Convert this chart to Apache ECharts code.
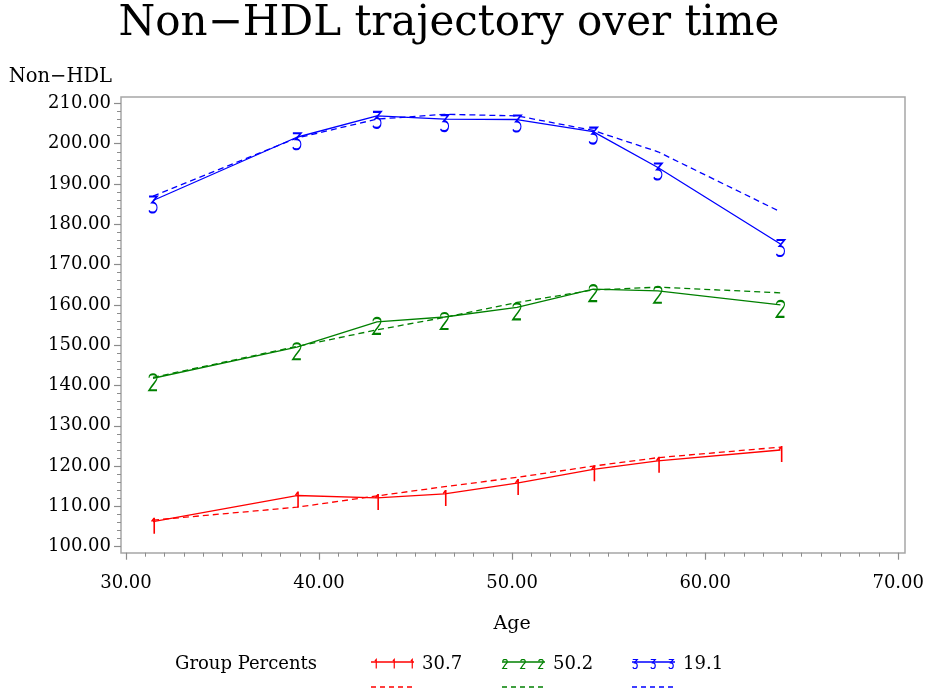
<!DOCTYPE html>
<html>
<head>
<meta charset="utf-8">
<script src="https://cdn.jsdelivr.net/npm/echarts@6/dist/echarts.min.js"></script>
<style>html,body{margin:0;padding:0;background:#fff}#chart{width:927px;height:689px}</style>
</head>
<body>
<div id="chart"></div>
<script>
// ---- data ----
const ages = [31.4, 38.85, 43.0, 46.5, 50.25, 54.2, 57.55, 63.9];
const group1Observed = [106.2, 112.7, 112.1, 113.1, 115.8, 119.2, 121.3, 124.0];
const group1Predicted = [106.6, 109.8, 112.6, 114.9, 117.2, 120.0, 122.1, 124.7];
const group2Observed = [141.8, 149.5, 155.8, 157.0, 159.4, 163.9, 163.5, 160.0];
const group2Predicted = [142.0, 149.7, 153.8, 156.9, 160.6, 163.7, 164.4, 163.0];
const group3Observed = [185.9, 201.6, 206.9, 206.1, 206.0, 203.0, 194.1, 175.1];
const group3Predicted = [187.0, 201.4, 206.1, 207.3, 206.9, 203.3, 198.0, 183.1];
const groupPercents = ['30.7', '50.2', '19.1'];
const groupNumbers = ['1', '2', '3'];
const titleText = 'Non\u2212HDL trajectory over time';
const yAxisTitle = 'Non\u2212HDL';
const xAxisTitle = 'Age';
const legendTitle = 'Group Percents';

// ---- styles ----
const FONT = 'DejaVu Serif';
const colors = ['#ff0000', '#008000', '#0000ff'];
const glyphs = {
  // "1" is a filled outline (flag + stem), the others are stroked
  '1': 'M0,3.4 L2.4,0 L4,0 L4,16 L2.4,16 L2.4,2.6 L1.1,4.2 Z',
  '2': 'M0,3.5 C0,1 2,0 4,0 C6,0 8,1 8,3.5 C8,6.5 4.5,9 0,16 L8,16',
  '3': 'M0,0 L8,0 L3,6 C6,6 8,8 8,11 C8,14 6.2,16 4,16 C2,16 0.3,15.2 0,13.8'
};
const glyphW = {'1': 4, '2': 8, '3': 8};
// polyline versions of the glyphs for the legend (unit box 8 x 16)
const glyphPts = {
  '1': [[5.5,2.5],[8,0],[8,16]],
  '2': [[0,3.5],[0.5,1.5],[2,0.3],[4,0],[6,0.3],[7.5,1.5],[8,3.5],[7.3,6],[4.5,9],[0,16],[8,16]],
  '3': [[0,0],[8,0],[3,6],[5.5,6.3],[7.3,7.8],[8,11],[7.3,14.3],[5.5,15.7],[4,16],[2,15.8],[0,13.8]]
};

const observed = [group1Observed, group2Observed, group3Observed];
const predicted = [group1Predicted, group2Predicted, group3Predicted];

const series = [];
for (let g = 0; g < 3; g++) {
  const num = groupNumbers[g];
  const filled = num === '1';
  series.push({
    type: 'line', name: groupPercents[g], xAxisIndex: 1, yAxisIndex: 1,
    data: ages.map((a, i) => [a, observed[g][i]]),
    symbol: 'path://' + glyphs[num],
    symbolSize: [glyphW[num], 16],
    symbolOffset: [0, 4],
    itemStyle: filled
      ? { color: colors[g], borderWidth: 0 }
      : { color: 'none', borderColor: colors[g], borderWidth: 1.5 },
    lineStyle: { color: colors[g], width: 1.3 },
    emphasis: { disabled: true }, silent: true, animation: false, z: 3
  });
  series.push({
    type: 'line', name: groupPercents[g] + ' predicted', xAxisIndex: 1, yAxisIndex: 1,
    data: ages.map((a, i) => [a, predicted[g][i]]),
    symbol: 'none',
    lineStyle: { color: colors[g], width: 1.3, type: [6, 4] },
    emphasis: { disabled: true }, silent: true, animation: false, z: 2
  });
}

// ---- legend (drawn as graphics) ----
const legendStarts = [371, 502, 632];
const legendEls = [{
  type: 'text', x: 175, y: 664,
  style: { text: legendTitle, font: '18px "' + FONT + '"', fill: '#000', verticalAlign: 'middle' }
}];
for (let g = 0; g < 3; g++) {
  const x0 = legendStarts[g], x1 = x0 + 43;
  legendEls.push({ type: 'line', shape: { x1: x0, y1: 662, x2: x1, y2: 662 },
    style: { stroke: colors[g], lineWidth: 1.3 } });
  [3, 21, 39].forEach(dx => {
    const s = 9 / 16;
    const pts = glyphPts[groupNumbers[g]].map(p => [x0 + dx - 2.25 + p[0] * s, 659.5 + p[1] * s]);
    legendEls.push({ type: 'polyline', shape: { points: pts },
      style: { stroke: colors[g], fill: null, lineWidth: 1.2 } });
  });
  legendEls.push({ type: 'text', x: x1 + 8, y: 664,
    style: { text: groupPercents[g], font: '18px "' + FONT + '"', fill: '#000', verticalAlign: 'middle' } });
  legendEls.push({ type: 'line', shape: { x1: x0, y1: 687, x2: x1, y2: 687 },
    style: { stroke: colors[g], lineWidth: 1.3, lineDash: [5, 4] } });
}

const tickColor = '#8c8c8c';
const option = {
  backgroundColor: '#fff',
  animation: false,
  title: {
    text: titleText, left: 449, top: 3, textAlign: 'center', padding: 0,
    textStyle: { fontFamily: FONT, fontSize: 42, fontWeight: 'normal', color: '#000' }
  },
  grid: [
    { left: 121, right: 22, top: 97, bottom: 136, show: true, borderColor: '#a6a6a6', borderWidth: 1.5, backgroundColor: 'transparent' },
    { left: 126, right: 25, top: 103.4, bottom: 142.3 }
  ],
  xAxis: [
    { gridIndex: 0, type: 'value', show: false, min: 0, max: 1 },
    {
      gridIndex: 1, type: 'value', min: 30, max: 70, interval: 10, offset: 6,
      name: xAxisTitle, nameLocation: 'middle', nameGap: 62,
      nameTextStyle: { fontFamily: FONT, fontSize: 19, color: '#000' },
      axisLine: { show: false },
      axisTick: { show: true, length: 7, lineStyle: { color: tickColor, width: 1.2 } },
      minorTick: { show: true, splitNumber: 10, length: 4, lineStyle: { color: tickColor, width: 1 } },
      splitLine: { show: false },
      axisLabel: { margin: 22, fontFamily: FONT, fontSize: 18, color: '#000', formatter: v => v.toFixed(2) }
    }
  ],
  yAxis: [
    { gridIndex: 0, type: 'value', show: false, min: 0, max: 1 },
    {
      gridIndex: 1, type: 'value', min: 100, max: 210, interval: 10, offset: 5,
      name: yAxisTitle, nameLocation: 'end', nameGap: 26,
      nameTextStyle: { fontFamily: FONT, fontSize: 19.5, color: '#000', align: 'right', verticalAlign: 'middle', padding: [0, 9, 0, 0] },
      axisLine: { show: false },
      axisTick: { show: true, length: 7, lineStyle: { color: tickColor, width: 1.2 } },
      minorTick: { show: true, splitNumber: 5, length: 4, lineStyle: { color: tickColor, width: 1 } },
      splitLine: { show: false },
      axisLabel: { margin: 10, fontFamily: FONT, fontSize: 18, color: '#000', formatter: v => v.toFixed(2) }
    }
  ],
  graphic: legendEls,
  series: series
};

const chart = echarts.init(document.getElementById('chart'), null, { renderer: 'canvas' });
chart.setOption(option);
</script>
</body>
</html>
